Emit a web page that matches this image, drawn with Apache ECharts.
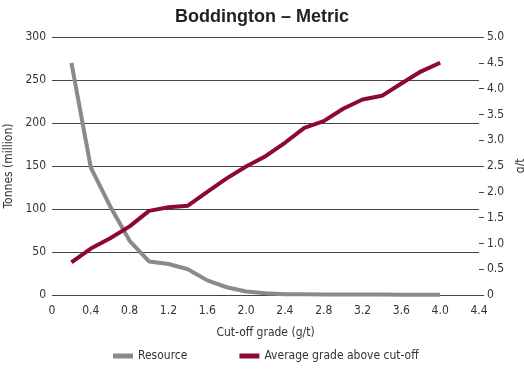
<!DOCTYPE html>
<html>
<head>
<meta charset="utf-8">
<script src="https://cdn.jsdelivr.net/npm/echarts@6/dist/echarts.min.js"></script>
<style>
  html, body { margin: 0; padding: 0; background: #fff; }
  #chart { width: 524px; height: 369px; }
</style>
</head>
<body>
<div id="chart"></div>
<script>
// Cut-off grades (g/t)
const cutoffGrades = [0.2, 0.4, 0.6, 0.8, 1.0, 1.2, 1.4, 1.6, 1.8, 2.0,
                      2.2, 2.4, 2.6, 2.8, 3.0, 3.2, 3.4, 3.6, 3.8, 4.0];
// Resource tonnes above cut-off (million)
const resourceTonnes = [270, 148, 103, 63, 39, 36, 30, 17, 9, 4,
                        2, 1, 0.8, 0.6, 0.5, 0.5, 0.5, 0.2, 0.2, 0.2];
// Average grade above cut-off (g/t)
const avgGrade = [0.63, 0.90, 1.10, 1.33, 1.63, 1.70, 1.73, 2.00, 2.26, 2.49,
                  2.69, 2.95, 3.24, 3.37, 3.61, 3.79, 3.86, 4.10, 4.33, 4.50];

const narrow = '"Liberation Sans Narrow", "DejaVu Sans Condensed", "Liberation Sans", sans-serif';
const textColor = '#333';

const fmt = v => (v === 0 ? '0' : v.toFixed(1));

const chart = echarts.init(document.getElementById('chart'));
chart.setOption({
  animation: false,
  backgroundColor: '#fff',
  title: {
    text: 'Boddington – Metric',
    left: 'center',
    top: 3,
    textStyle: { fontFamily: '"Liberation Sans", Arial, sans-serif', fontWeight: 'bold', fontSize: 18, color: '#222' }
  },
  grid: { left: 52, right: 45, top: 37, bottom: 74, outerBoundsMode: 'none', containLabel: false },
  legend: {
    top: 345,
    left: 108,
    itemWidth: 20,
    itemHeight: 5,
    itemGap: 52,
    icon: 'rect',
    textStyle: { fontFamily: narrow, fontSize: 12, color: textColor },
    data: ['Resource', 'Average grade above cut-off']
  },
  xAxis: {
    type: 'value',
    min: 0,
    max: 4.4,
    interval: 0.4,
    name: 'Cut-off grade (g/t)',
    nameLocation: 'middle',
    nameGap: 32,
    nameTextStyle: { fontFamily: narrow, fontSize: 12, color: textColor },
    axisLine: { show: false },
    axisTick: { show: false },
    splitLine: { show: false },
    axisLabel: { margin: 10, fontFamily: narrow, fontSize: 12, color: textColor, formatter: fmt }
  },
  yAxis: [
    {
      type: 'value',
      min: 0,
      max: 300,
      interval: 50,
      name: 'Tonnes (million)',
      nameLocation: 'middle',
      nameRotate: 90,
      nameGap: 36,
      nameTextStyle: { fontFamily: narrow, fontSize: 12, color: textColor },
      axisLine: { show: false },
      axisTick: { show: false },
      splitLine: { show: true, lineStyle: { color: '#444', width: 1 } },
      axisLabel: { margin: 6, fontFamily: narrow, fontSize: 12, color: textColor }
    },
    {
      type: 'value',
      position: 'right',
      min: 0,
      max: 5,
      interval: 0.5,
      name: 'g/t',
      nameLocation: 'middle',
      nameRotate: 90,
      nameGap: 36,
      nameTextStyle: { fontFamily: narrow, fontSize: 12, color: textColor },
      axisLine: { show: false },
      axisTick: { show: true, length: 5, lineStyle: { color: '#444', width: 1 } },
      splitLine: { show: false },
      axisLabel: { margin: 8, fontFamily: narrow, fontSize: 12, color: textColor, formatter: fmt }
    }
  ],
  series: [
    {
      name: 'Resource',
      type: 'line',
      yAxisIndex: 0,
      showSymbol: false,
      color: '#8a8a8a',
      lineStyle: { width: 4, color: '#8a8a8a' },
      data: cutoffGrades.map((x, i) => [x, resourceTonnes[i]])
    },
    {
      name: 'Average grade above cut-off',
      type: 'line',
      yAxisIndex: 1,
      showSymbol: false,
      color: '#8c0a2e',
      lineStyle: { width: 4, color: '#8c0a2e' },
      data: cutoffGrades.map((x, i) => [x, avgGrade[i]])
    }
  ]
});
</script>
</body>
</html>
